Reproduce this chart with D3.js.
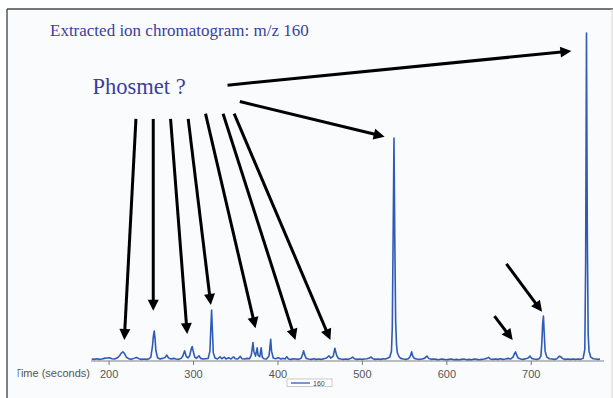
<!DOCTYPE html>
<html><head><meta charset="utf-8">
<script src="https://cdn.jsdelivr.net/npm/d3@7"></script>
<style>html,body{margin:0;padding:0;background:#fff;}svg{display:block;}</style>
</head><body>
<svg id="chart" width="613" height="398"></svg>
<script>
// ---- data ----
const titleText = "Extracted ion chromatogram: m/z 160";
const compoundLabel = "Phosmet ?";
const xAxisLabel = "Time (seconds)";
const legendLabel = "160";
const xTicks = [200, 300, 400, 500, 600, 700];
// [time (s), relative intensity]
const chromatogram160 = [
[180,0.6],[183,0.5],[186,0.7],[189,0.5],[192,0.6],[195,0.8],[198,0.9],[201,1.0],[204,0.7],[207,0.6],[210,0.9],[213,1.6],[215,2.4],[217,2.8],[219,2.2],[221,1.2],[224,0.7],[227,0.5],[230,0.8],[233,1.1],[236,0.7],[239,0.5],[242,0.6],[245,0.5],[248,0.7],[250,1.2],[252,4.5],[253,7.5],[254,9.1],[255,7.0],[256,3.2],[258,1.0],[261,0.6],[264,0.8],[267,1.1],[269,1.8],[271,0.9],[274,0.6],[277,0.8],[280,0.6],[283,0.5],[286,0.8],[288,1.5],[290,3.1],[292,1.4],[294,0.9],[296,1.6],[298,3.8],[299,4.4],[300,3.2],[302,1.2],[304,0.8],[307,1.6],[309,0.8],[312,0.6],[315,0.7],[318,0.8],[320,3.0],[321,9.5],[322,15.5],[323,9.0],[324,2.5],[326,0.9],[329,0.6],[332,1.3],[334,0.7],[337,1.2],[339,0.6],[342,1.0],[345,0.6],[348,1.3],[350,0.7],[353,0.6],[356,1.4],[358,0.7],[361,0.6],[364,0.8],[367,0.7],[369,1.8],[371,5.6],[372,3.0],[374,1.5],[376,4.0],[377,1.8],[379,1.3],[380.7,4.0],[382,1.2],[384,0.7],[387,0.6],[390,1.5],[392,6.6],[393,3.0],[395,0.9],[398,0.7],[401,1.0],[404,0.6],[407,0.8],[409,0.6],[411,1.3],[413,0.6],[416,0.5],[419,0.7],[422,0.6],[425,0.5],[428,0.8],[430,2.2],[431,3.1],[432,2.0],[434,0.8],[437,0.6],[440,0.5],[443,0.7],[446,0.5],[449,0.6],[452,0.5],[455,0.7],[458,0.9],[461,1.6],[463,0.9],[466,1.5],[468,3.9],[470,1.8],[472,0.8],[475,0.6],[478,0.5],[481,0.6],[484,0.5],[487,0.8],[489,1.2],[491,0.7],[494,0.5],[497,0.6],[500,0.5],[503,0.6],[506,0.7],[509,0.9],[511,1.2],[513,0.7],[516,0.5],[519,0.6],[522,0.5],[525,0.7],[528,0.6],[531,0.9],[533,1.2],[535,3.0],[536,10],[537,38],[538,68],[539,36],[540,12],[541,5],[542,2.5],[544,1.3],[546,0.8],[549,0.6],[552,0.5],[555,0.7],[557,1.3],[559,2.8],[560,1.6],[562,0.8],[565,0.6],[568,0.5],[571,0.6],[574,0.8],[577,1.5],[579,0.8],[582,0.5],[585,0.6],[588,0.5],[591,0.4],[594,0.6],[597,0.5],[600,0.4],[603,0.5],[606,0.6],[609,0.4],[612,0.5],[615,0.4],[618,0.5],[621,0.6],[624,0.4],[627,0.5],[630,0.4],[633,0.6],[636,0.5],[639,0.4],[642,0.5],[645,0.6],[648,0.8],[650,1.1],[652,0.6],[655,0.5],[658,0.6],[661,0.5],[664,0.7],[667,0.5],[670,0.6],[673,0.8],[676,0.6],[679,1.2],[681,2.4],[682,2.8],[683,2.0],[685,0.9],[688,0.6],[691,0.5],[694,0.7],[697,0.9],[699,1.5],[701,0.8],[704,0.6],[707,0.5],[710,0.7],[712,1.5],[713,5],[714,11],[715,13.7],[716,8],[717,3],[719,1.2],[722,0.7],[725,0.6],[728,0.5],[731,0.7],[734,1.5],[736,1.2],[738,0.7],[741,0.5],[744,0.6],[747,0.5],[750,0.6],[753,0.5],[756,0.6],[759,0.5],[762,0.8],[764,3.5],[765,30],[766,100],[767,38],[768,8],[769,3],[771,1.2],[774,0.7],[777,0.6],[780,0.5],[782,0.6]
];
// annotation arrows in data coordinates: start [t, i] and end [t, i]
const arrowStarts = [[340.9,84.1],[355.4,79.1],[232.4,73.8],[252.9,73.8],[273.4,73.8],[294.3,73.8],[314.8,75.4],[335.6,75.4],[348.7,75.4],[671.2,29.6],[657,13.7]];
const arrowEnds   = [[748.1,94.5],[526.9,68.4],[218.6,6.4],[252.9,15.3],[293.1,8.2],[321.1,17.1],[374,10],[421.3,6.4],[462.7,6.4],[713.4,15],[678.6,6.4]];

// ---- drawing ----
const svg = d3.select("#chart");
const W = 613, H = 398;
const x = d3.scaleLinear().domain([180, 782]).range([91.7, 600]);
const y = d3.scaleLinear().domain([0, 100]).range([361, 33]);

const defs = svg.append("defs");
defs.append("clipPath").attr("id","lblclip").attr("clipPathUnits","userSpaceOnUse")
  .append("rect").attr("x",17.6).attr("y",360).attr("width",80).attr("height",30);

// panel
svg.append("rect").attr("x",7).attr("y",9).attr("width",W-7).attr("height",H-9).attr("fill","#fafbfd");
svg.append("line").attr("x1",7).attr("x2",W).attr("y1",9).attr("y2",9).attr("stroke","#4a4a4a").attr("stroke-width",1.4);
svg.append("line").attr("x1",7).attr("x2",7).attr("y1",9).attr("y2",H).attr("stroke","#4a4a4a").attr("stroke-width",1.4);
svg.append("line").attr("x1",612).attr("x2",612).attr("y1",9).attr("y2",H).attr("stroke","#d8d8d8").attr("stroke-width",1);

// axis
const axis = d3.axisBottom(x).tickValues(xTicks).tickSize(4).tickSizeOuter(0).tickPadding(5);
const gAx = svg.append("g").attr("transform","translate(0,361)").call(axis);
gAx.select(".domain").attr("d","M91,0H604").attr("stroke","#a8a8a8").attr("stroke-width",1.5);
gAx.selectAll(".tick line").attr("stroke","#777");
gAx.selectAll(".tick text").attr("fill","#555").attr("font-family","Arial, 'Liberation Sans', sans-serif").attr("font-size",11);

// axis label with the clipped first letter
svg.append("g").attr("clip-path","url(#lblclip)")
  .append("text").attr("x",90).attr("y",377).attr("text-anchor","end")
  .attr("fill","#555").attr("font-family","Arial, 'Liberation Sans', sans-serif").attr("font-size",11).text(xAxisLabel);

// trace
const line = d3.line().x(d=>x(d[0])).y(d=>y(d[1]));
svg.append("path").datum(chromatogram160).attr("d",line).attr("fill","none")
  .attr("stroke","#2f5bb7").attr("stroke-width",1.6).attr("stroke-linejoin","round");

// legend
const lg = svg.append("g").attr("transform","translate(287,379)");
lg.append("rect").attr("x",0).attr("y",0).attr("width",45).attr("height",7.5).attr("fill","#fff").attr("stroke","#bdbdbd").attr("stroke-width",0.8);
lg.append("line").attr("x1",4).attr("x2",23).attr("y1",4).attr("y2",4).attr("stroke","#2f5bb7").attr("stroke-width",1.3);
lg.append("text").attr("x",26).attr("y",6.5).attr("font-size",7).attr("fill","#444").attr("font-family","Arial, 'Liberation Sans', sans-serif").text(legendLabel);

// titles
svg.append("text").attr("x",50).attr("y",36).attr("fill","#3a3f9e").attr("font-family","'Liberation Serif','Times New Roman',serif").attr("font-size",17).text(titleText);
svg.append("text").attr("x",92.5).attr("y",93.5).attr("fill","#3a3f9e").attr("font-family","'Liberation Serif','Times New Roman',serif").attr("font-size",22.5).text(compoundLabel);

// arrows
const headLen = 11, headW = 5.5;
arrowStarts.forEach((s,i)=>{
  const e = arrowEnds[i];
  const x0=x(s[0]), y0=y(s[1]), x1=x(e[0]), y1=y(e[1]);
  const dx=x1-x0, dy=y1-y0, L=Math.hypot(dx,dy), ux=dx/L, uy=dy/L;
  const bx=x1-ux*headLen, by=y1-uy*headLen;
  svg.append("line").attr("x1",x0).attr("y1",y0).attr("x2",bx+ux*1).attr("y2",by+uy*1)
    .attr("stroke","#000").attr("stroke-width",3);
  svg.append("polygon").attr("points",[[x1,y1],[bx-uy*headW,by+ux*headW],[bx+uy*headW,by-ux*headW]].map(p=>p.join(",")).join(" "))
    .attr("fill","#000");
});
</script>
</body></html>
